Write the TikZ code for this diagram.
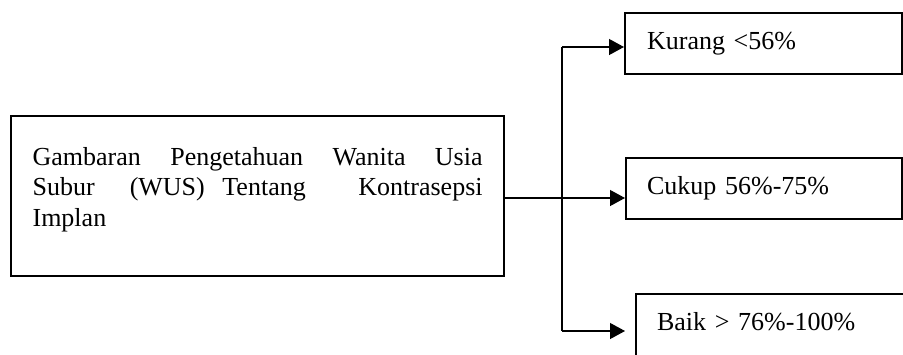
\documentclass[tikz,border=0pt]{standalone}
\usepackage{fontspec}
\setmainfont{Liberation Serif}
\usetikzlibrary{arrows.meta}
\tikzset{
  box/.style={draw, line width=1.1pt, rectangle, anchor=north west, align=left},
  conn/.style={line width=0.6pt},
  arr/.style={conn, -{Triangle[length=7.5pt,width=8pt]}},
}
\begin{document}
\begin{tikzpicture}[x=0.5pt,y=-0.5pt,font=\fontsize{13}{15.25}\selectfont]
\useasboundingbox (0,0) rectangle (903,354);
\clip (0,0) rectangle (903,354);
\node[box, inner xsep=10.75pt, inner ysep=0pt] (main) at (10,115)
  {\parbox[c][80pt][t]{225pt}{\vspace*{15.6pt}\fontsize{13}{15.25}\selectfont
   \noindent\makebox[\linewidth][l]{Gambaran\hfill Pengetahuan\hfill Wanita\hfill Usia}\par
   \noindent\makebox[\linewidth][l]{Subur\hfill\hfill (WUS)\hfill Tentang\hfill\hfill\hfill Kontrasepsi}\par
   \noindent Implan\par}};
\node[box, inner xsep=11pt, inner ysep=9.25pt, text width=116.5pt, text height=9pt, text depth=3pt] (kurang) at (624,12) {Kurang <56\%};
\node[box, inner xsep=10.5pt, inner ysep=9.25pt, text width=117pt, text height=9pt, text depth=3pt] (cukup) at (625,157) {Cukup 56\%-75\%};
\node[box, inner xsep=10.5pt, inner ysep=0pt, text width=126.5pt, text height=18pt, text depth=30pt] (baik) at (635,293) {Baik > 76\%-100\%};
\coordinate (top) at (562,47);
\coordinate (mid) at (562,198);
\coordinate (bot) at (562,331);
\coordinate (baikend) at (625,331);
\draw[conn] (top) -- (bot);
\draw[arr] (top) -- (kurang.west |- top);
\draw[arr] (main.east |- mid) -- (cukup.west |- mid);
\draw[arr] (bot) -- (baikend);
\end{tikzpicture}
\end{document}
